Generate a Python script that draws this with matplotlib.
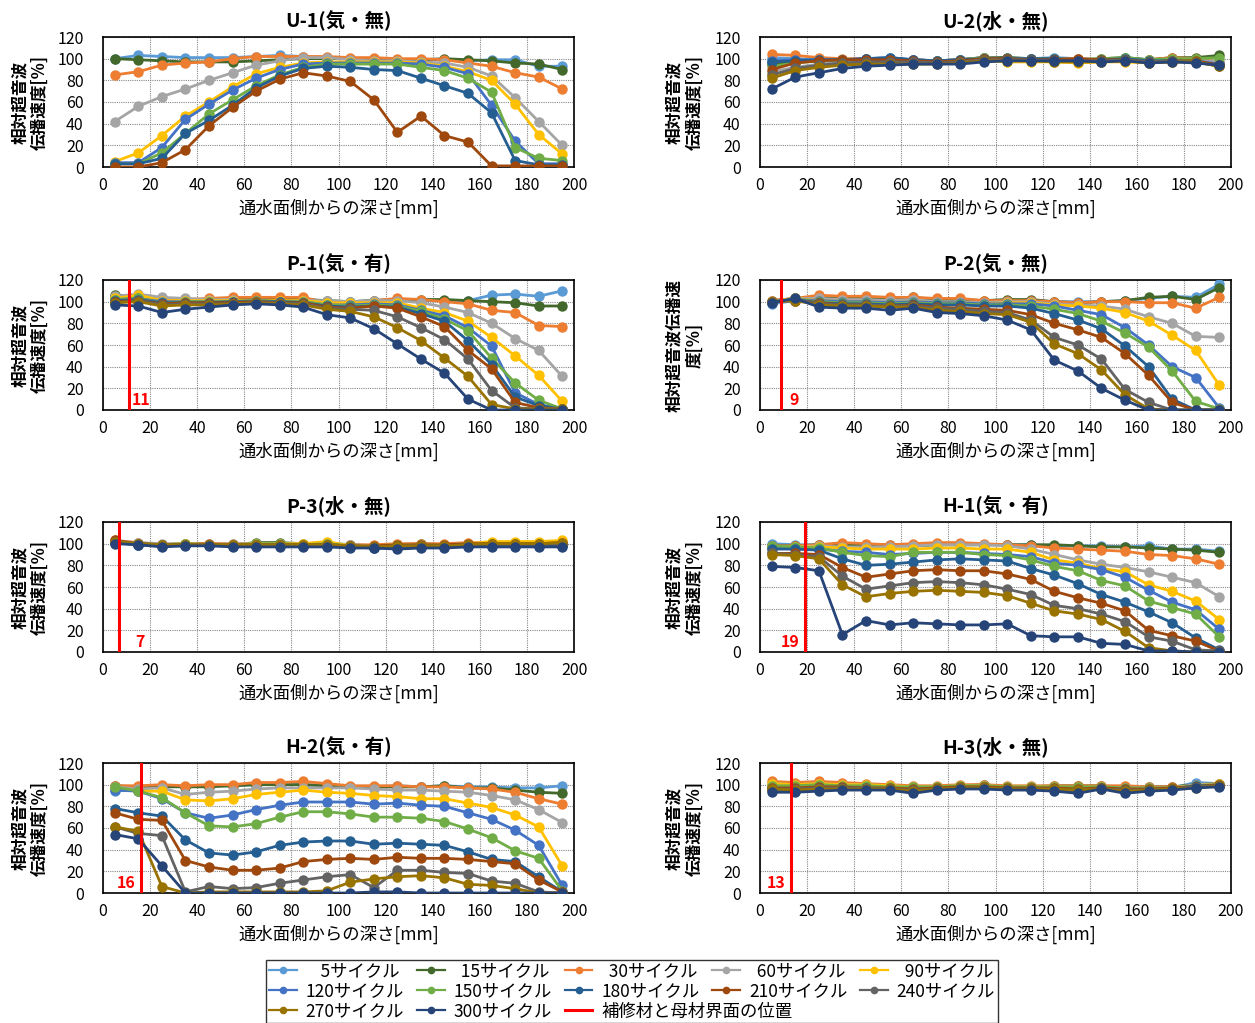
import matplotlib
matplotlib.use('Agg')
import matplotlib.pyplot as plt
from matplotlib.lines import Line2D

plt.rcParams['font.family'] = ['Noto Sans CJK JP', 'DejaVu Sans']

depth = [5, 15, 25, 35, 45, 55, 65, 75, 85, 95, 105, 115, 125, 135, 145, 155, 165, 175, 185, 195]
cycles = [5, 15, 30, 60, 90, 120, 150, 180, 210, 240, 270, 300]
cycle_labels = ['    5サイクル', '  15サイクル', '  30サイクル', '  60サイクル', '  90サイクル',
                '120サイクル', '150サイクル', '180サイクル', '210サイクル', '240サイクル',
                '270サイクル', '300サイクル']
interface_label = '補修材と母材界面の位置'
colors = ['#5B9BD5', '#43682B', '#ED7D31', '#A5A5A5', '#FFC000', '#4472C4',
          '#70AD47', '#255E91', '#9E480E', '#636363', '#997300', '#264478']

titles = ['U-1(気・無)', 'U-2(水・無)', 'P-1(気・有)', 'P-2(気・無)',
          'P-3(水・無)', 'H-1(気・有)', 'H-2(気・有)', 'H-3(水・無)']
interface = [None, None, 11, 9, 7, 19, 16, 13]

u1 = [
    [100, 103, 102, 101, 101, 101, 102, 103, 102, 101, 100, 100, 99, 99, 99, 98, 99, 99, 93, 93],
    [100, 99, 98, 97, 97, 97, 98, 99, 100, 100, 100, 99, 99, 99, 100, 99, 98, 96, 95, 90],
    [85, 88, 94, 96, 97, 100, 102, 102, 102, 102, 101, 101, 100, 100, 99, 96, 93, 87, 83, 72],
    [42, 56, 65, 72, 80, 87, 94, 98, 101, 101, 99, 98, 98, 97, 96, 92, 84, 64, 42, 20],
    [5, 13, 29, 47, 60, 74, 86, 92, 96, 97, 97, 97, 97, 96, 93, 88, 80, 58, 30, 12],
    [4, 4, 18, 44, 58, 71, 82, 90, 95, 96, 96, 96, 96, 95, 92, 86, 57, 24, 3, 3],
    [3, 3, 13, 31, 49, 62, 75, 85, 92, 95, 95, 95, 95, 92, 89, 82, 69, 18, 8, 6],
    [3, 3, 8, 31, 43, 57, 73, 84, 91, 93, 92, 90, 89, 82, 75, 68, 50, 6, 2, 2],
    [0, 0, 4, 16, 38, 55, 70, 81, 87, 84, 79, 62, 32, 47, 29, 23, 1, 1, 1, 1],
]
u2 = [
    [101, 100, 99, 99, 100, 100, 99, 98, 99, 101, 101, 100, 101, 100, 99, 101, 99, 100, 99, 96],
    [95, 97, 98, 99, 100, 100, 99, 98, 99, 101, 101, 100, 100, 99, 100, 101, 99, 101, 101, 103],
    [104, 103, 101, 100, 100, 100, 99, 98, 99, 101, 100, 100, 100, 100, 99, 100, 99, 101, 100, 97],
    [88, 92, 95, 97, 98, 98, 98, 97, 98, 100, 99, 99, 99, 99, 99, 100, 98, 99, 99, 97],
    [85, 90, 93, 95, 96, 96, 96, 96, 97, 98, 97, 97, 97, 96, 97, 97, 96, 97, 97, 93],
    [98, 99, 99, 99, 100, 101, 99, 98, 99, 101, 100, 100, 100, 99, 99, 100, 98, 99, 98, 95],
    [93, 96, 98, 99, 99, 99, 98, 98, 99, 101, 100, 100, 100, 99, 100, 101, 99, 100, 100, 101],
    [97, 98, 99, 99, 100, 101, 99, 98, 99, 100, 100, 100, 100, 99, 99, 100, 98, 98, 97, 94],
    [90, 96, 98, 99, 99, 99, 98, 97, 98, 100, 100, 99, 99, 100, 99, 99, 97, 98, 98, 94],
    [85, 91, 94, 96, 97, 97, 97, 96, 97, 99, 99, 99, 98, 98, 98, 99, 97, 98, 97, 93],
    [82, 89, 92, 94, 95, 95, 95, 95, 96, 98, 98, 98, 97, 97, 97, 98, 96, 97, 97, 93],
    [72, 83, 87, 91, 93, 94, 95, 95, 95, 97, 98, 98, 98, 98, 97, 98, 96, 97, 96, 94],
]
p1 = [
    [104, 104, 102, 102, 102, 103, 103, 103, 103, 100, 100, 101, 102, 101, 101, 101, 106, 107, 105, 110],
    [106, 105, 102, 102, 102, 102, 102, 102, 102, 101, 100, 101, 102, 102, 102, 101, 100, 99, 96, 96],
    [103, 103, 102, 102, 103, 104, 104, 104, 104, 99, 99, 101, 103, 102, 100, 98, 92, 90, 78, 77],
    [105, 107, 104, 103, 102, 102, 98, 100, 101, 101, 100, 101, 101, 99, 95, 90, 80, 66, 55, 31],
    [103, 106, 101, 101, 101, 101, 101, 101, 101, 99, 99, 99, 99, 94, 90, 82, 67, 50, 32, 8],
    [102, 103, 100, 100, 100, 100, 101, 100, 100, 97, 97, 98, 97, 92, 87, 76, 59, 16, 5, 1],
    [102, 103, 99, 100, 100, 100, 101, 100, 100, 97, 96, 97, 96, 91, 84, 73, 48, 25, 9, 1],
    [101, 102, 99, 99, 99, 100, 100, 100, 99, 96, 95, 96, 95, 89, 82, 64, 42, 12, 4, 1],
    [100, 101, 98, 99, 99, 99, 100, 99, 99, 95, 94, 96, 94, 86, 77, 55, 38, 7, 2, 1],
    [99, 101, 97, 98, 98, 98, 99, 99, 98, 94, 93, 92, 86, 76, 65, 47, 18, 2, 1, 1],
    [99, 100, 96, 97, 97, 98, 99, 98, 97, 93, 91, 86, 76, 64, 48, 31, 5, 1, 1, 1],
    [97, 96, 90, 93, 95, 97, 98, 97, 95, 88, 85, 75, 61, 47, 34, 10, 0, 0, 0, 0],
]
p2 = [
    [98, 101, 103, 101, 101, 100, 101, 100, 100, 100, 101, 101, 100, 100, 100, 101, 103, 105, 104, 116],
    [101, 103, 104, 103, 103, 103, 104, 102, 102, 101, 102, 102, 100, 99, 100, 101, 104, 105, 102, 113],
    [101, 103, 106, 105, 105, 104, 104, 103, 103, 101, 101, 101, 100, 99, 100, 100, 99, 99, 94, 104],
    [100, 103, 103, 102, 102, 101, 102, 100, 100, 99, 100, 100, 98, 97, 96, 93, 86, 80, 68, 67],
    [100, 103, 101, 100, 100, 99, 100, 99, 99, 98, 99, 99, 97, 96, 94, 90, 82, 69, 55, 23],
    [100, 102, 101, 100, 100, 99, 100, 99, 99, 98, 98, 98, 96, 92, 88, 76, 60, 40, 30, 2],
    [100, 102, 100, 99, 99, 98, 99, 98, 98, 97, 97, 96, 93, 89, 82, 71, 58, 36, 8, 1],
    [100, 102, 99, 98, 98, 97, 98, 97, 97, 96, 96, 94, 89, 83, 75, 59, 40, 10, 0, 0],
    [100, 101, 99, 97, 97, 96, 97, 95, 94, 93, 92, 88, 80, 74, 67, 52, 32, 7, 0, 0],
    [100, 102, 98, 97, 97, 96, 96, 94, 93, 91, 90, 83, 67, 60, 47, 19, 7, 0, 0, 0],
    [100, 101, 97, 96, 96, 95, 95, 92, 91, 89, 88, 81, 61, 52, 37, 14, 1, 0, 0, 0],
    [99, 103, 95, 94, 94, 92, 94, 90, 89, 87, 83, 74, 46, 36, 20, 9, 0, 0, 0, 0],
]
p3 = [
    [101, 100, 98, 99, 99, 98, 99, 99, 98, 99, 98, 97, 97, 98, 98, 99, 99, 99, 99, 99],
    [102, 100, 99, 100, 100, 99, 101, 101, 100, 100, 99, 98, 99, 100, 99, 100, 100, 101, 101, 100],
    [103, 101, 99, 100, 100, 100, 100, 100, 99, 100, 99, 99, 100, 100, 100, 101, 101, 101, 101, 102],
    [102, 101, 100, 100, 99, 100, 100, 100, 100, 101, 99, 98, 99, 99, 99, 100, 101, 101, 101, 102],
    [102, 100, 99, 100, 99, 99, 100, 100, 100, 102, 98, 98, 99, 99, 99, 100, 102, 102, 102, 103],
    [101, 99, 98, 99, 99, 98, 99, 99, 98, 99, 97, 96, 97, 98, 98, 99, 99, 99, 99, 99],
    [101, 100, 99, 100, 99, 99, 100, 100, 99, 100, 98, 97, 98, 99, 98, 99, 100, 100, 100, 100],
    [101, 99, 98, 99, 99, 98, 98, 99, 98, 98, 97, 96, 96, 97, 97, 98, 98, 98, 98, 98],
    [103, 100, 99, 99, 99, 99, 99, 99, 99, 99, 98, 98, 99, 99, 99, 100, 100, 100, 100, 101],
    [102, 100, 99, 99, 99, 98, 99, 99, 98, 99, 98, 97, 98, 98, 98, 99, 99, 99, 99, 100],
    [102, 100, 99, 99, 99, 99, 99, 99, 99, 99, 98, 97, 98, 98, 98, 99, 100, 100, 100, 101],
    [100, 99, 97, 98, 98, 97, 97, 97, 97, 97, 96, 96, 95, 96, 96, 97, 97, 97, 97, 97],
]
h1 = [
    [100, 99, 99, 99, 99, 99, 99, 99, 99, 99, 99, 99, 98, 98, 98, 97, 98, 95, 95, 93],
    [98, 98, 99, 99, 99, 98, 98, 99, 99, 99, 99, 99, 99, 98, 97, 97, 96, 95, 94, 92],
    [98, 98, 99, 101, 100, 99, 100, 101, 101, 100, 99, 98, 96, 95, 94, 93, 90, 89, 86, 81],
    [97, 97, 98, 97, 97, 97, 98, 99, 99, 99, 98, 95, 90, 85, 81, 78, 74, 69, 64, 51],
    [97, 97, 97, 96, 95, 95, 95, 96, 96, 95, 95, 92, 85, 82, 77, 74, 62, 56, 47, 30],
    [96, 96, 95, 93, 92, 90, 91, 92, 92, 91, 90, 88, 82, 80, 76, 69, 57, 46, 39, 21],
    [98, 97, 96, 92, 89, 88, 92, 92, 92, 90, 89, 85, 79, 75, 66, 61, 47, 41, 35, 14],
    [95, 95, 94, 86, 80, 81, 83, 85, 86, 85, 84, 77, 71, 63, 53, 46, 37, 27, 13, 2],
    [91, 91, 90, 78, 69, 72, 75, 76, 75, 75, 72, 67, 56, 50, 45, 38, 20, 15, 10, 1],
    [91, 90, 88, 70, 58, 61, 64, 65, 64, 62, 58, 53, 43, 40, 35, 28, 14, 10, 2, 1],
    [90, 89, 86, 62, 51, 54, 56, 57, 56, 55, 52, 45, 38, 35, 30, 19, 4, 1, 0, 0],
    [79, 78, 75, 16, 29, 25, 27, 26, 25, 25, 26, 15, 14, 14, 8, 7, 1, 1, 0, 0],
]
h2 = [
    [94, 96, 99, 98, 99, 99, 100, 100, 100, 99, 98, 98, 99, 98, 99, 98, 98, 97, 97, 99],
    [99, 98, 98, 98, 98, 99, 100, 100, 100, 99, 98, 98, 98, 98, 99, 97, 97, 95, 93, 92],
    [99, 99, 100, 99, 100, 100, 102, 102, 103, 101, 99, 99, 99, 98, 98, 97, 96, 93, 87, 82],
    [98, 96, 97, 91, 93, 94, 96, 97, 97, 97, 97, 96, 95, 95, 94, 93, 90, 86, 77, 65],
    [97, 94, 94, 86, 85, 87, 91, 93, 95, 93, 92, 90, 89, 87, 87, 83, 79, 72, 61, 25],
    [95, 94, 87, 74, 69, 72, 77, 81, 84, 84, 84, 82, 83, 81, 80, 74, 68, 58, 44, 7],
    [98, 94, 88, 74, 62, 61, 64, 70, 75, 75, 73, 70, 70, 69, 66, 59, 51, 39, 32, 2],
    [78, 74, 71, 49, 37, 35, 38, 44, 47, 48, 48, 45, 46, 45, 44, 38, 31, 29, 15, 1],
    [74, 68, 67, 30, 24, 21, 21, 23, 29, 31, 32, 31, 33, 32, 32, 31, 29, 27, 12, 1],
    [61, 55, 53, 1, 6, 4, 5, 9, 12, 15, 17, 5, 21, 21, 19, 18, 11, 9, 1, 0],
    [61, 57, 6, 0, 1, 1, 1, 1, 1, 2, 10, 13, 15, 16, 14, 8, 7, 4, 0, 0],
    [54, 50, 25, 0, 0, 0, 0, 0, 0, 0, 0, 1, 1, 0, 0, 0, 0, 0, 0, 0],
]
h3 = [
    [100, 99, 100, 99, 98, 98, 97, 98, 99, 99, 98, 98, 98, 97, 98, 96, 97, 97, 102, 101],
    [99, 98, 99, 99, 98, 98, 97, 98, 99, 100, 98, 98, 99, 99, 99, 97, 98, 98, 100, 101],
    [103, 102, 103, 102, 101, 100, 99, 99, 100, 100, 99, 99, 99, 99, 99, 99, 98, 98, 99, 100],
    [101, 100, 101, 100, 100, 99, 98, 98, 99, 99, 98, 98, 98, 97, 98, 97, 97, 97, 100, 101],
    [101, 100, 101, 100, 100, 99, 98, 98, 99, 99, 98, 98, 98, 97, 98, 96, 96, 97, 99, 101],
    [97, 97, 98, 98, 98, 97, 96, 97, 98, 98, 97, 97, 97, 96, 97, 95, 96, 96, 99, 100],
    [99, 99, 100, 99, 99, 98, 98, 98, 99, 99, 98, 98, 98, 98, 98, 97, 97, 97, 99, 100],
    [95, 94, 96, 96, 96, 96, 94, 96, 97, 97, 96, 96, 96, 94, 97, 93, 95, 96, 99, 99],
    [97, 97, 98, 98, 97, 97, 96, 97, 98, 98, 97, 97, 97, 96, 97, 96, 96, 97, 98, 100],
    [96, 96, 97, 97, 97, 96, 95, 96, 97, 97, 96, 96, 96, 95, 96, 95, 95, 96, 98, 99],
    [96, 95, 96, 96, 96, 96, 94, 96, 97, 97, 96, 96, 96, 95, 96, 94, 95, 96, 97, 99],
    [93, 93, 94, 95, 95, 95, 92, 95, 96, 96, 95, 95, 94, 92, 96, 92, 94, 95, 97, 98],
]
panels = [u1, u2, p1, p2, p3, h1, h2, h3]

W, H = 1255, 1023
fig = plt.figure(figsize=(W / 100, H / 100), dpi=100)

col_x = [103, 760]
ax_w = 471
row_top = [37, 280, 522, 763]
ax_h = 130

for i, data in enumerate(panels):
    r, c = divmod(i, 2)
    ax = fig.add_axes([col_x[c] / W, 1 - (row_top[r] + ax_h) / H, ax_w / W, ax_h / H])
    for j, vals in enumerate(data):
        ax.plot(depth, vals, color=colors[j], lw=2.0, marker='o', ms=7.5,
                markeredgewidth=0, zorder=3 + j * 0.01)
    if interface[i] is not None:
        xv = interface[i]
        ax.axvline(xv, color='#FF0000', lw=2.2, zorder=5)
        if i in (2, 3, 4):
            off = {2: 2, 3: 6, 4: 11}[i]
            ax.annotate(str(xv), (xv, 9), xytext=(off, 0), textcoords='offset points',
                        ha='left', va='center', color='#FF0000', fontsize=11.5,
                        fontweight='bold')
        else:
            ax.annotate(str(xv), (xv, 9), xytext=(-4, 0), textcoords='offset points',
                        ha='right', va='center', color='#FF0000', fontsize=11.5,
                        fontweight='bold')
    ax.set_xlim(0, 200)
    ax.set_ylim(0, 120)
    ax.set_xticks(range(0, 201, 20))
    ax.set_yticks(range(0, 121, 20))
    ax.grid(True, color='#888888', linestyle=(0, (1, 1)), lw=0.8, zorder=0)
    ax.set_axisbelow(True)
    for s in ax.spines.values():
        s.set_color('black')
        s.set_linewidth(1.2)
    ax.tick_params(axis='both', length=0, labelsize=11.5)
    ax.tick_params(axis='y', pad=14)
    ax.tick_params(axis='x', pad=7)
    ax.set_title(titles[i], fontsize=14, fontweight='bold', pad=7)
    ax.set_xlabel('通水面側からの深さ[mm]', fontsize=12.5)
    ax.xaxis.set_label_coords(0.5, -0.24)
    ylab = '相対超音波伝播速\n度[%]' if i == 3 else '相対超音波\n伝播速度[%]'
    ax.set_ylabel(ylab, fontsize=12, fontweight='bold', linespacing=1.15)
    ax.yaxis.set_label_coords(-0.115 if c == 0 else -0.12, 0.5)

handles = [Line2D([], [], color=colors[j], lw=1.6, marker='o', ms=5.5, markeredgewidth=0)
           for j in range(len(cycles))]
handles.append(Line2D([], [], color='#FF0000', lw=2.2))
labels = cycle_labels + [' ']
order = [0, 5, 10, 1, 6, 11, 2, 7, 12, 3, 8, 4, 9]
leg = fig.legend([handles[k] for k in order], [labels[k] for k in order], ncol=5,
                 loc='upper center', bbox_to_anchor=(632 / W, 1 - 951 / H), fontsize=12.5,
                 frameon=True, fancybox=False, edgecolor='black', handlelength=1.6,
                 handletextpad=0.5, columnspacing=0.75, labelspacing=0.12, borderpad=0.15)
leg.get_frame().set_linewidth(1.0)

# the interface label overflows into the next legend column, as in the reference
fig.canvas.draw()
red_txt = leg.get_texts()[order.index(12)]
bb = red_txt.get_window_extent()
fig.text(bb.x0 / W, (bb.y0 + bb.y1) / 2 / H, interface_label, fontsize=12.5,
         ha='left', va='center', zorder=10)

fig.savefig('out.png', dpi=100, facecolor='white')
